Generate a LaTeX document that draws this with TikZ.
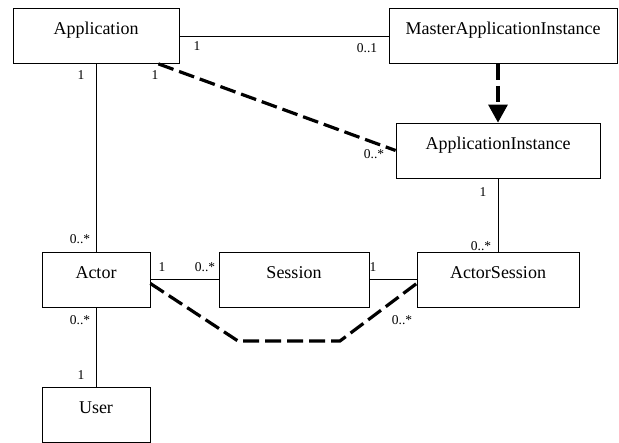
\documentclass[tikz,border=0pt]{standalone}
\usepackage{fontspec}
\setmainfont{Liberation Serif}
\usetikzlibrary{arrows.meta,calc}
\tikzset{
	umlclass/.style={draw, line width=0.8pt, rectangle, minimum height=55pt,
			inner sep=0pt, text height=12pt, text depth=14pt,
			font=\fontsize{18}{20}\selectfont},
	mult/.style={inner sep=0pt, font=\fontsize{13.5}{15}\selectfont},
	assoc/.style={line width=0.8pt},
	depline/.style={line width=3.2pt, dash pattern=on 16pt off 6pt}
}

\begin{document}
\begin{tikzpicture}[x=1pt,y=1pt]
			\useasboundingbox (0,0) rectangle (619,443);

			% Classes
			\node[umlclass, minimum width=166pt] (app) at (96,407) {Application};
			\node[umlclass, minimum width=228pt] (master) at (503,407) {MasterApplicationInstance};
			\node[umlclass, minimum width=204pt] (inst) at (498,292.5) {ApplicationInstance};
			\node[umlclass, minimum width=108pt] (actor) at (96,163.5) {Actor};
			\node[umlclass, minimum width=150pt] (session) at (294,163.5) {Session};
			\node[umlclass, minimum width=162pt] (actsess) at (498,163.5) {ActorSession};
			\node[umlclass, minimum width=108pt] (user) at (96,28.5) {User};

			% Points
			\coordinate (appdep) at ([xshift=-21pt]app.south east);
			\coordinate (actdep) at ([yshift=-4pt]actor.east);
			\coordinate (asdep) at ([yshift=-4pt]actsess.west);
			\coordinate (bendl) at (238,102);
			\coordinate (bendr) at (340,102);

			% Associations
			\draw[assoc] (app) -- (master);
			\draw[assoc] (app) -- (actor);
			\draw[assoc] (inst) -- (actsess);
			\draw[assoc] (actor) -- (session);
			\draw[assoc] (session) -- (actsess);
			\draw[assoc] (actor) -- (user);

			% Dependencies
			\draw[depline] (appdep) -- (inst.west);
			\draw[depline, -{Triangle[width=19pt,length=18pt]}] (master.south -| inst.north) -- (inst.north);
			\draw[depline] (actdep) -- (bendl) -- (bendr) -- (asdep);

			% Multiplicities
			\node[mult] (m1) at (197,397) {1};
			\node[mult] (m2) at (367,395) {0..1};
			\node[mult] (m3) at (81,368) {1};
			\node[mult] (m4) at (155,368) {1};
			\node[mult] (m5) at (374,289) {0..*};
			\node[mult] (m6) at (483,251) {1};
			\node[mult] (m7) at (481,197) {0..*};
			\node[mult] (m8) at (80,204) {0..*};
			\node[mult] (m9) at (162,176) {1};
			\node[mult] (m10) at (205,176) {0..*};
			\node[mult] (m11) at (373,176) {1};
			\node[mult] (m12) at (402,123) {0..*};
			\node[mult] (m13) at (80,123) {0..*};
			\node[mult] (m14) at (81,68) {1};
		\end{tikzpicture}
\end{document}
